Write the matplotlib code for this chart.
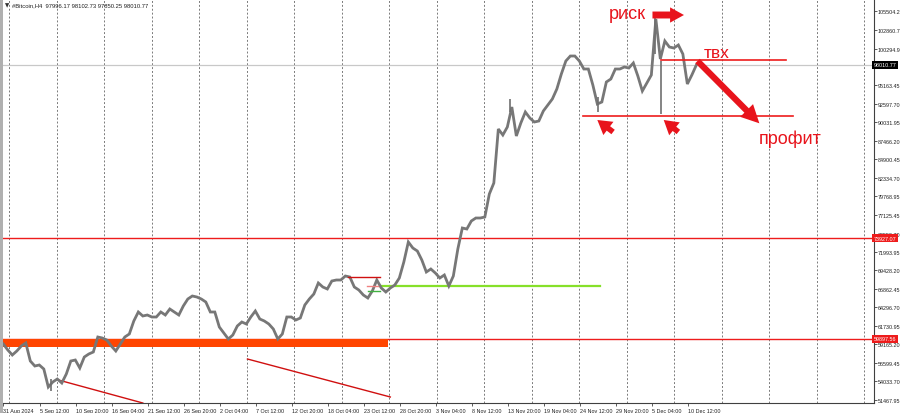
import numpy as np
import matplotlib
matplotlib.use("Agg")
import matplotlib.pyplot as plt
import matplotlib.transforms as mtransforms
from matplotlib.patches import Rectangle, FancyArrowPatch

plt.rcParams['font.family'] = ['Liberation Sans', 'DejaVu Sans']

# ---------------- data ----------------
symbol_title = "#Bitcoin,H4  97996.17 98102.73 97850.25 98010.77"
bars_per_sample = 4  # one sample every 4 H4 bars

close = [59201, 58367, 57671, 58228, 58923, 59341, 56837, 56141, 56280, 55724,
         53220, 53916, 54333, 53777, 55028, 56837, 56976, 55863, 57393, 57811,
         58089, 60175, 60036, 59758, 58923, 58228, 59201, 60175, 60593, 62401,
         63654, 63097, 63235, 62958, 62958, 63654, 63235, 64070, 63654, 63235,
         64488, 65461, 65878, 65740, 65461, 65044, 63654, 63654, 61566, 60732,
         59897, 60453, 61706, 62262, 61984, 62958, 63793, 62680, 62401, 61984,
         61288, 59897, 60593, 62958, 62958, 62540, 62818, 64626, 65461, 66156,
         67687, 67130, 66852, 67965, 68104, 68104, 68660, 68521, 67130, 66713,
         66017, 65600, 66574, 68104, 66991, 66435, 66991, 67408, 68382, 70608,
         73389, 72555, 72138, 70886, 69217, 69634, 69078, 68382, 68799, 67270,
         68660, 72416, 75337, 75198, 76311, 76728, 76728, 76867, 80066, 81597,
         89108, 88273, 89386, 92168, 88134, 89943, 91473, 90638, 90082, 90221,
         91612, 92446, 93281, 94672, 96759, 98567, 99262, 99262, 98567, 97454,
         97454, 95228, 92585, 92864, 95646, 96063, 97454, 97454, 97732, 97593,
         98289, 96480, 94394, 95507, 96619, 104409, 98845, 101349, 100514, 100375,
         100792, 99540, 95367, 96619, 98010]

wick_bar = [42, 450, 529, 579, 585]
wick_low = [52660, 91500, 91500, 99500, 91200]
wick_high = [54300, 93300, 93500, 104700, 98600]

date_bars = [0, 33, 65, 97, 129, 161, 193, 225, 257, 289, 321, 353, 385, 417,
             449, 481, 513, 545, 577, 609]
date_labels = ["31 Aug 2024", "5 Sep 12:00", "10 Sep 20:00", "16 Sep 04:00",
               "21 Sep 12:00", "26 Sep 20:00", "2 Oct 04:00", "7 Oct 12:00",
               "12 Oct 20:00", "18 Oct 04:00", "23 Oct 12:00", "28 Oct 20:00",
               "3 Nov 04:00", "8 Nov 12:00", "13 Nov 20:00", "19 Nov 04:00",
               "24 Nov 12:00", "29 Nov 20:00", "5 Dec 04:00", "10 Dec 12:00"]

price_tick_labels = ["105504.2", "102860.7", "100294.9", "95163.45", "92597.70",
                     "90031.95", "87466.20", "84900.45", "82334.70", "79768.95",
                     "77125.45", "74559.70", "71993.95", "69428.20", "66862.45",
                     "64296.70", "61730.95", "59165.20", "56599.45", "54033.70",
                     "51467.95"]
price_ticks = [float(s) for s in price_tick_labels]

last_price = 98010.77
level_hi = 73927.07
level_lo = 59897.56

# drawn objects (bar index, price)
zone_bars = (-0.3, 342)
zone_prices = (58720, 59850)
trend1 = ([49, 124], [54194, 50995])
trend2 = ([217, 344], [57115, 51830])
red_short = ([306, 335], [68563, 68563])
pink_short = ([323, 333], [67316, 67316])
green_short = ([324, 335], [66620, 66620])
green_long = ([335, 530], [67300, 67300])
entry_line = ([585, 696], [98706, 98706])
profit_line = ([515, 702], [90847, 90847])
risk_arrow = ((577, 104965), (605, 104965))
main_arrow = ((617, 98567), (672, 89900))
small_arrows = [((542, 88690), (528, 90360)), ((600, 88690), (587, 90360))]
txt_risk = (555, 105105, "риск")
txt_entry = (634, 99680, "твх")
txt_profit = (699, 87856, "профит")

# ---------------- figure ----------------
W, H = 900, 414
fig = plt.figure(figsize=(W / 100, H / 100), dpi=100)
fig.patch.set_facecolor('white')
ax = fig.add_axes([3 / W, 10 / H, 871 / W, 404 / H])
ax.set_facecolor('white')
ax.set_xlim(-0.27, 773.9)
ax.set_ylim(50995, 107191)

for s in ['top', 'left']:
    ax.spines[s].set_visible(False)
for s in ['bottom', 'right']:
    ax.spines[s].set_color('#404040')
    ax.spines[s].set_linewidth(0.8)

# vertical dotted grid (every 47.5 px)
px_per_bar = 1.125
for k in range(19):
    gx = (9.3 + 47.5 * k - 3.3) / px_per_bar
    ax.axvline(gx, color='#7a7a7a', lw=0.7, ls=(0, (2, 2)), zorder=1)

# last price line
ax.axhline(last_price, color='#c8c8c8', lw=0.9, zorder=1.5)

# price series
x = np.arange(len(close)) * bars_per_sample
ax.plot(x, close, color='#777777', lw=2.0, zorder=3, solid_joinstyle='miter')
ax.vlines(wick_bar, wick_low, wick_high, color='#6f6f6f', lw=1.2, zorder=3)

# levels
ax.axhline(level_hi, color='#ee1c1c', lw=1.0, zorder=2)
ax.axhline(level_lo, color='#ee1c1c', lw=1.0, zorder=2)
ax.add_patch(Rectangle((zone_bars[0], zone_prices[0]), zone_bars[1] - zone_bars[0],
                       zone_prices[1] - zone_prices[0], facecolor='#ff4500',
                       edgecolor='none', zorder=2.5))

ax.plot(*trend1, color='#d01010', lw=1.0, zorder=2)
ax.plot(*trend2, color='#d01010', lw=1.0, zorder=2)
ax.plot(*red_short, color='#d01010', lw=1.0, zorder=4)
ax.plot(*pink_short, color='#f08080', lw=1.0, zorder=4)
ax.plot(*green_short, color='#40b040', lw=1.0, zorder=4)
ax.plot(*green_long, color='#86e02a', lw=1.6, zorder=2.8)
ax.plot(*entry_line, color='#ee1c1c', lw=1.2, zorder=4)
ax.plot(*profit_line, color='#ee1c1c', lw=1.2, zorder=4)

red = '#e8141c'


def arrow(p0, p1, tail, hw, hl, scale=1.0):
    a = FancyArrowPatch(p0, p1, arrowstyle=f'simple,tail_width={tail},head_width={hw},head_length={hl}',
                        mutation_scale=10 * scale, color=red, lw=0, zorder=6,
                        shrinkA=0, shrinkB=0)
    ax.add_patch(a)


arrow(*risk_arrow, tail=0.5, hw=1.1, hl=1.0)
arrow(*main_arrow, tail=0.45, hw=1.3, hl=1.3)
for p0, p1 in small_arrows:
    arrow(p0, p1, tail=0.4, hw=1.2, hl=1.0)

for (tx, ty, t), fs in [(txt_risk, 13), (txt_entry, 12.5), (txt_profit, 13)]:
    ax.text(tx, ty, t, color=red, fontsize=fs, ha='center', va='center', zorder=7)

# axes ticks
ax.yaxis.tick_right()
ax.set_yticks(price_ticks)
ax.set_yticklabels(price_tick_labels)
ax.set_xticks(date_bars)
ax.set_xticklabels(date_labels, ha='left')
ax.tick_params(axis='both', labelsize=3.9, length=2, width=0.6, color='#404040',
               labelcolor='#202020')
ax.tick_params(axis='y', pad=0.8)
ax.tick_params(axis='x', pad=1.5)

# price boxes on right axis
trans = mtransforms.blended_transform_factory(ax.transAxes, ax.transData)
for val, fc in [(last_price, '#000000'), (level_hi, '#ee1c1c'), (level_lo, '#ee1c1c')]:
    ax.text(1.0, val, f"{val:.2f}", transform=trans, fontsize=3.9, color='white',
            ha='left', va='center', zorder=10, clip_on=False,
            bbox=dict(boxstyle='square,pad=0.3', fc=fc, ec='none'))

# title
ax.text(0.002, 0.992, "▼", transform=ax.transAxes, fontsize=4, color='#303030',
        ha='left', va='top', family=['DejaVu Sans'])
ax.text(0.010, 0.993, symbol_title, transform=ax.transAxes, fontsize=4.2,
        color='#202020', ha='left', va='top')

# window border at the left edge
fig.add_artist(Rectangle((0, 0), 3 / W, 1, transform=fig.transFigure,
                         facecolor='#b0b0b0', edgecolor='none'))

fig.savefig('out.png', dpi=100)
